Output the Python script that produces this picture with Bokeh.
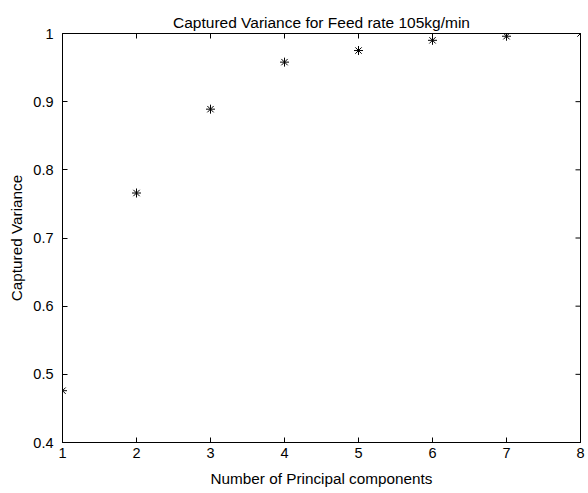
import math
from bokeh.plotting import figure
from bokeh.models import FixedTicker, CustomJSTickFormatter, Range1d, Title
from bokeh.embed import file_html
from bokeh.resources import INLINE

components = [1, 2, 3, 4, 5, 6, 7, 8]
captured_variance = [0.476, 0.766, 0.889, 0.958, 0.975, 0.990, 0.996, 1.000]
x_ticks = [1, 2, 3, 4, 5, 6, 7, 8]
y_ticks = [0.4, 0.5, 0.6, 0.7, 0.8, 0.9, 1.0]
x_min, x_max = 1, 8
y_min, y_max = 0.4, 1.0

FONT = "Liberation Sans"
TICK_FS = "14.5px"
LABEL_FS = "15.3px"

p = figure(width=588, height=493, output_backend="svg", toolbar_location=None,
           x_range=Range1d(x_min, x_max), y_range=Range1d(y_min, y_max),
           min_border_left=62, min_border_right=8, min_border_top=33, min_border_bottom=51)
p.title = None
p.add_layout(Title(text="Captured Variance for Feed rate 105kg/min", align="center",
                   text_font=FONT, text_font_size="15.5px", text_font_style="normal",
                   text_color="black", offset=0, standoff=5), "above")
p.grid.visible = False
p.outline_line_color = "black"
p.outline_line_width = 1
p.background_fill_color = "white"
p.border_fill_color = "white"

fmt = CustomJSTickFormatter(code="return (Math.round(tick*10)/10).toString();")

for ax in p.xaxis:
    ax.ticker = FixedTicker(ticks=x_ticks)
    ax.axis_label = "Number of Principal components"
    ax.major_label_standoff = 5
    ax.axis_label_standoff = 9
for ax in p.yaxis:
    ax.ticker = FixedTicker(ticks=y_ticks)
    ax.formatter = fmt
    ax.axis_label = "Captured Variance"
    ax.major_label_standoff = 9
    ax.axis_label_standoff = 5

for ax in p.xaxis + p.yaxis:
    ax.major_tick_in = 5
    ax.major_tick_out = 0
    ax.minor_tick_line_color = None
    ax.major_label_text_font = FONT
    ax.major_label_text_font_size = TICK_FS
    ax.major_label_text_color = "black"
    ax.axis_label_text_font = FONT
    ax.axis_label_text_font_size = LABEL_FS
    ax.axis_label_text_font_style = "normal"
    ax.axis_label_text_color = "black"
    ax.axis_line_color = "black"
    ax.major_tick_line_color = "black"

# inward ticks on the top and right edges of the box (half of each dash is clipped by the frame)
p.scatter(x_ticks, [y_max] * len(x_ticks), marker="dash", angle=math.pi / 2, size=10,
          line_color="black", line_width=1)
p.scatter([x_max] * len(y_ticks), y_ticks, marker="dash", size=10,
          line_color="black", line_width=1)

p.scatter(components, captured_variance, marker="asterisk", size=9,
          line_color="black", line_width=1)

open("out.html", "w").write(file_html(p, INLINE))
